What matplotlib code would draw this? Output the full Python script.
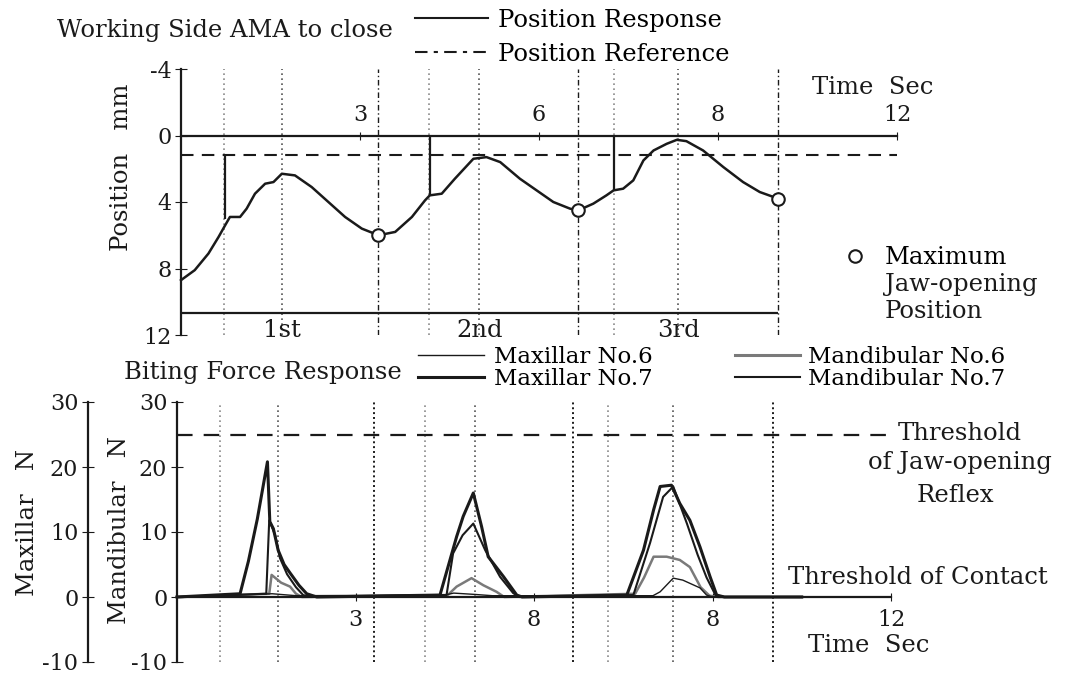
import matplotlib.pyplot as plt
from matplotlib.lines import Line2D

plt.rcParams['font.family'] = ['DejaVu Serif']
plt.rcParams['font.size'] = 17.5
plt.rcParams['axes.unicode_minus'] = False

# ---- data ----
# position response (top panel), time in s, position in mm (down = open)
pos_t = [0.00, 0.23, 0.46, 0.63, 0.74, 0.82, 0.99, 1.10, 1.24, 1.41, 1.55, 1.69,
         1.91, 2.19, 2.47, 2.75, 3.03, 3.31, 3.59, 3.87, 4.09, 4.17, 4.37, 4.59,
         4.90, 5.12, 5.35, 5.68, 5.96, 6.24, 6.52, 6.66, 6.91, 7.13, 7.25, 7.41,
         7.58, 7.75, 7.92, 8.14, 8.31, 8.47, 8.75, 9.09, 9.42, 9.70, 10.01]
pos_mm = [8.7, 8.1, 7.1, 6.1, 5.4, 4.9, 4.9, 4.4, 3.5, 2.9, 2.8, 2.3,
          2.4, 3.1, 4.0, 4.9, 5.6, 6.0, 5.8, 4.9, 3.9, 3.6, 3.5, 2.6,
          1.4, 1.3, 1.6, 2.6, 3.3, 4.0, 4.4, 4.5, 4.1, 3.6, 3.3, 3.2,
          2.7, 1.5, 0.9, 0.5, 0.26, 0.34, 0.9, 1.9, 2.8, 3.4, 3.8]
ref_level = 1.15
step_t = [0.74, 4.17, 7.25]
step_top = [1.15, 0.0, 0.0]
step_bottom = [5.0, 3.6, 3.3]

# maximum jaw-opening points
open_t = [3.31, 6.66, 10.01]
open_mm = [6.0, 4.5, 3.8]
# other timing markers
start_t = [0.72, 4.16, 7.25]
peak_t = [1.69, 5.00, 8.33]
stroke_names = ['1st', '2nd', '3rd']
bracket_mm = 10.7

time_ticks = [3, 6, 9, 12]
top_tick_labels = ['3', '6', '8', '12']
bottom_tick_labels = ['3', '8', '8', '12']

# biting force (bottom panel), N
max7_t = [0.0, 1.06, 1.20, 1.35, 1.52, 1.56, 1.62, 1.70, 1.80, 1.90, 2.05, 2.18, 2.35,
          4.42, 4.70, 4.81, 4.98, 5.12, 5.23, 5.49, 5.71, 5.80,
          7.56, 7.84, 8.01, 8.12, 8.31, 8.45, 8.62, 8.79, 8.96, 9.07, 9.20, 10.5]
max7_n = [0.0, 0.5, 5.5, 12.0, 20.8, 11.6, 10.5, 7.2, 5.0, 3.7, 1.8, 0.5, 0.0,
          0.3, 9.3, 12.4, 16.0, 10.8, 6.2, 3.1, 0.3, 0.0,
          0.3, 7.2, 13.4, 17.0, 17.2, 14.4, 11.8, 7.7, 3.1, 0.3, 0.0, 0.0]

mand7_t = [0.0, 1.50, 1.55, 1.65, 1.73, 1.85, 2.00, 2.12, 2.25,
           4.53, 4.64, 4.80, 4.98, 5.18, 5.43, 5.65, 5.75,
           7.67, 7.95, 8.17, 8.34, 8.57, 8.75, 8.90, 9.05, 9.20, 10.5]
mand7_n = [0.0, 0.5, 11.8, 9.5, 6.0, 3.5, 1.5, 0.3, 0.0,
           0.3, 6.7, 9.5, 11.3, 7.2, 3.1, 0.6, 0.0,
           0.3, 8.3, 15.4, 17.0, 11.3, 6.5, 3.0, 0.3, 0.0, 0.0]

mand6_t = [0.0, 1.55, 1.59, 1.75, 1.90, 2.00, 2.10,
           4.55, 4.70, 4.95, 5.15, 5.37, 5.50,
           7.70, 7.85, 8.01, 8.23, 8.45, 8.62, 8.80, 8.95, 9.10, 10.5]
mand6_n = [0.0, 0.5, 3.4, 2.2, 1.6, 0.5, 0.0,
           0.3, 1.6, 2.9, 1.8, 0.8, 0.0,
           0.5, 3.0, 6.2, 6.2, 5.7, 4.6, 1.5, 0.2, 0.0, 0.0]

max6_t = [0.0, 1.00, 1.60, 2.00, 4.50, 4.65, 5.00, 5.30,
          8.00, 8.12, 8.34, 8.50, 8.79, 8.90, 9.00, 10.5]
max6_n = [0.0, 0.3, 0.5, 0.2, 0.3, 0.6, 0.4, 0.2,
          0.2, 0.8, 2.9, 2.6, 1.4, 0.3, 0.0, 0.0]

reflex_threshold = 25

ink = '#1a1a1a'
faint = '#8a8a8a'
gray = '#7a7a7a'


def fx(px):
    return px / 1070


def fy(py):
    return 1 - py / 680


fig = plt.figure(figsize=(10.7, 6.8), dpi=100)

# ---------------- top panel ----------------
ax1 = fig.add_axes([fx(181), fy(335), (897 - 181) / 1070, (335 - 69) / 680])
ax1.set_xlim(0, 12)
ax1.set_ylim(12, -4)
for s in ['right', 'bottom']:
    ax1.spines[s].set_visible(False)
ax1.spines['top'].set_position(('data', 0))
for s in ['top', 'left']:
    ax1.spines[s].set_linewidth(1.6)
    ax1.spines[s].set_color(ink)
ax1.xaxis.set_ticks_position('top')
ax1.set_xticks(time_ticks)
ax1.set_xticklabels(top_tick_labels)
ax1.set_yticks([-4, 0, 4, 8, 12])
ax1.tick_params(axis='both', labelsize=16, colors=ink)
ax1.tick_params(axis='x', direction='inout', length=6, pad=4)
ax1.tick_params(axis='y', direction='inout', length=8, pad=3)

for t in start_t:
    ax1.axvline(t, color=faint, ls=(0, (1, 2)), lw=1.2, zorder=1)
for t in peak_t:
    ax1.axvline(t, color='#555555', ls=(0, (1, 2)), lw=1.2, zorder=1)
for t in open_t:
    ax1.axvline(t, color=ink, ls=(0, (4, 2, 1, 2)), lw=1.0, zorder=1)

ax1.axhline(ref_level, color=ink, ls=(0, (6, 4)), lw=1.5)
ax1.vlines(step_t, step_top, step_bottom, color=ink, lw=1.6)
ax1.plot(pos_t, pos_mm, color=ink, lw=1.8, solid_joinstyle='round', clip_on=False)
ax1.plot(open_t, open_mm, ls='none', marker='o', ms=9, mfc='white', mec=ink, mew=1.5, zorder=5)
ax1.hlines(bracket_mm, 0, open_t[-1], color=ink, lw=1.6)
for t, name in zip(peak_t, stroke_names):
    ax1.text(t, 11.75, name, ha='center', va='center', color=ink)

fig.text(fx(57), fy(30), 'Working Side AMA to close', ha='left', va='center', color=ink)
fig.legend(handles=[Line2D([], [], color=ink, lw=1.5),
                    Line2D([], [], color=ink, lw=1.5, ls=(0, (6, 3, 2, 3)))],
           labels=['Position Response', 'Position Reference'],
           loc='upper left', bbox_to_anchor=(fx(415), fy(9)), frameon=False,
           handlelength=3.0, handletextpad=0.4, labelspacing=0.45,
           borderaxespad=0, borderpad=0)
fig.text(fx(121), fy(167), 'Position   mm', rotation=90, ha='center', va='center', color=ink)
fig.text(fx(812), fy(88), 'Time  Sec', ha='left', va='center', color=ink)
fig.legend(handles=[Line2D([], [], ls='none', marker='o', ms=9, mfc='white', mec=ink, mew=1.5)],
           labels=['Maximum'], loc='center left', bbox_to_anchor=(fx(843), fy(258)),
           frameon=False, handlelength=1.0, handletextpad=0.7, borderaxespad=0, borderpad=0)
fig.text(fx(885), fy(284), 'Jaw-opening', ha='left', va='center', color=ink)
fig.text(fx(885), fy(312), 'Position', ha='left', va='center', color=ink)

# ---------------- bottom panel ----------------
ax2 = fig.add_axes([fx(177), fy(662), (891 - 177) / 1070, (662 - 402) / 680])
ax2.set_xlim(0, 12)
ax2.set_ylim(-10, 30)
for s in ['right', 'top']:
    ax2.spines[s].set_visible(False)
ax2.spines['bottom'].set_position(('data', 0))
for s in ['bottom', 'left']:
    ax2.spines[s].set_linewidth(1.6)
    ax2.spines[s].set_color(ink)
ax2.set_xticks(time_ticks)
ax2.set_xticklabels(bottom_tick_labels)
ax2.set_yticks([-10, 0, 10, 20, 30])
ax2.tick_params(axis='both', labelsize=16, colors=ink)
ax2.tick_params(axis='x', direction='inout', length=6, pad=6)
ax2.tick_params(axis='y', direction='inout', length=8, pad=3)

axm = ax2.twinx()
axm.set_ylim(-10, 30)
for s in ['right', 'top', 'bottom']:
    axm.spines[s].set_visible(False)
axm.spines['left'].set_visible(True)
axm.spines['left'].set_position(('outward', 89 * 72 / 100))
axm.spines['left'].set_linewidth(1.6)
axm.spines['left'].set_color(ink)
axm.yaxis.set_ticks_position('left')
axm.set_yticks([-10, 0, 10, 20, 30])
axm.tick_params(axis='y', direction='inout', length=8, pad=3, labelsize=16, colors=ink)

for t in start_t:
    ax2.axvline(t, color=faint, ls=(0, (1, 2)), lw=1.2, zorder=1)
for t in peak_t:
    ax2.axvline(t, color='#555555', ls=(0, (1, 2)), lw=1.2, zorder=1)
for t in open_t:
    ax2.axvline(t, color=ink, ls=(0, (1, 1.5)), lw=1.4, zorder=1)

ax2.axhline(reflex_threshold, color=ink, ls=(0, (7, 5)), lw=1.6)

ax2.plot(mand6_t, mand6_n, color=gray, lw=1.8, clip_on=False)
ax2.plot(mand7_t, mand7_n, color=ink, lw=1.5, clip_on=False)
axm.plot(max6_t, max6_n, color=ink, lw=1.0, clip_on=False)
axm.plot(max7_t, max7_n, color=ink, lw=2.2, clip_on=False)

fig.text(fx(124), fy(372), 'Biting Force Response', ha='left', va='center', color=ink)
fig.legend(handles=[Line2D([], [], color=ink, lw=1.0), Line2D([], [], color=ink, lw=2.2)],
           labels=['Maxillar No.6', 'Maxillar No.7'], fontsize=16.5,
           loc='upper left', bbox_to_anchor=(fx(418), fy(346)), frameon=False,
           handlelength=2.9, handletextpad=0.4, labelspacing=0.0,
           borderaxespad=0, borderpad=0)
fig.legend(handles=[Line2D([], [], color=gray, lw=2.2), Line2D([], [], color=ink, lw=1.5)],
           labels=['Mandibular No.6', 'Mandibular No.7'], fontsize=16.5,
           loc='upper left', bbox_to_anchor=(fx(735), fy(346)), frameon=False,
           handlelength=2.85, handletextpad=0.35, labelspacing=0.0,
           borderaxespad=0, borderpad=0)
fig.text(fx(28), fy(522), 'Maxillar   N', rotation=90, ha='center', va='center', color=ink)
fig.text(fx(120), fy(530), 'Mandibular   N', rotation=90, ha='center', va='center', color=ink)
fig.text(fx(960), fy(433), 'Threshold', ha='center', va='center', color=ink)
fig.text(fx(960), fy(463), 'of Jaw-opening', ha='center', va='center', color=ink)
fig.text(fx(955), fy(495), 'Reflex', ha='center', va='center', color=ink)
fig.text(fx(788), fy(578), 'Threshold of Contact', ha='left', va='center', color=ink)
fig.text(fx(808), fy(645), 'Time  Sec', ha='left', va='center', color=ink)

fig.savefig('out.png', dpi=100, facecolor='white')
